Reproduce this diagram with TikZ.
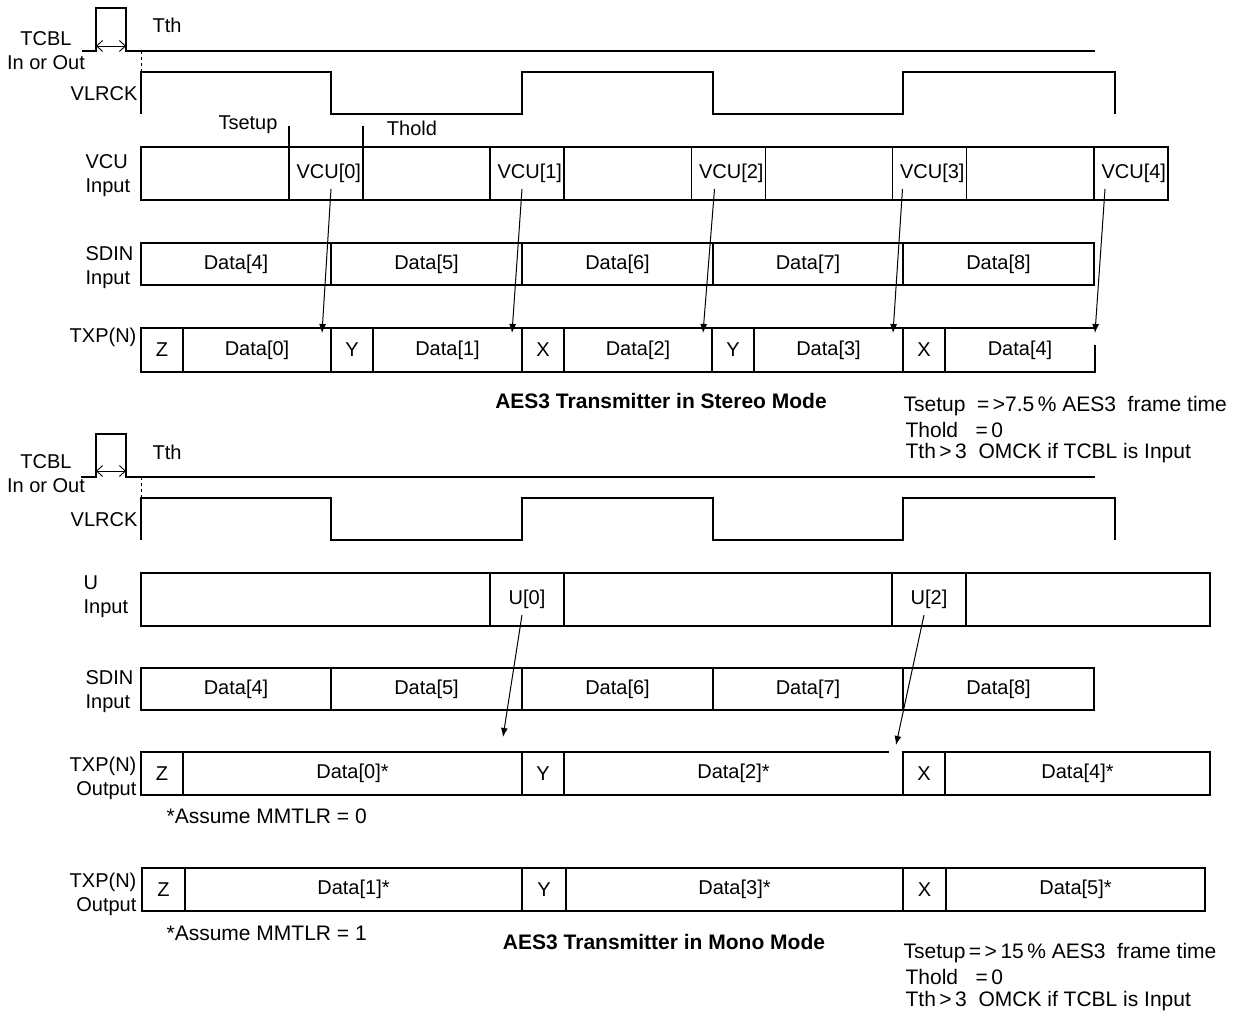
\documentclass[tikz,border=0pt]{standalone}
\usepackage{fontspec}
\setmainfont{Liberation Sans}
\usepackage{tikz}
\usetikzlibrary{arrows.meta}

\tikzset{
  cell/.style={draw, inner sep=0pt, outer sep=0pt},
  vcucell/.style={draw, inner sep=0pt, outer sep=0pt, text width=70, align=right},
  lbl/.style={inner sep=0pt, align=left},
  rlbl/.style={inner sep=0pt, align=right},
  note/.style={inner sep=0pt, anchor=west, font=\fontsize{21}{24}\selectfont},
  upd/.style={-{Latex[length=9pt,width=7pt]}, line width=1pt},
  thar/.style={{Straight Barb[length=6pt,width=11pt]}-{Straight Barb[length=6pt,width=11pt]}, line width=0.9pt},
  title/.style={inner sep=0pt, font=\fontsize{21}{24}\selectfont\bfseries},
}

\begin{document}
\begin{tikzpicture}[x=1pt, y=-1pt, line width=1.2pt, font=\fontsize{20}{24}\selectfont]
      \useasboundingbox (0,0) rectangle (1239,1014);

      \draw (82,51) -- (96,51) -- (96,8) -- (126,8) -- (126,51) -- (1095,51);
      \draw[thar] (96,46) -- (126,46);
      \draw[dashed, line width=0.9pt] (141,51) -- (141,72);
      \draw (141,114) -- (141,72) -- (331,72) -- (331,114) -- (522,114) -- (522,72) -- (713,72) -- (713,114) -- (903,114) -- (903,72) -- (1115,72) -- (1115,114);
      \draw (289,126) -- (289,147);
      \draw (363,126) -- (363,147);

      \node[lbl, align=center] (tcbl) at (46,51) {TCBL\\In or Out};
      \node[lbl, anchor=west] (tth) at (152,25) {Tth};
      \node[rlbl, anchor=east] (vlrck) at (138,94) {VLRCK};
      \node[lbl] (tsetup) at (248,125) {Tsetup};
      \node[lbl] (thold) at (412,128) {Thold};
      \node[lbl, anchor=west] (vcul) at (85,176) {VCU\\Input};
      \node[lbl, anchor=west] (sdinl) at (85,268) {SDIN\\Input};
      \node[rlbl, anchor=east] (txpl) at (137,337) {TXP(N)};

      \node[cell, minimum width=1027, minimum height=53] (vcurow) at (654.5,173.5) {};
      \node[vcucell, minimum width=74, minimum height=53] (vcu0) at (326,173.5) {VCU[0]};
      \node[vcucell, minimum width=74, minimum height=53] (vcu1) at (527,173.5) {VCU[1]};
      \node[vcucell, minimum width=74, minimum height=53] (vcu2) at (728.5,173.5) {VCU[2]};
      \node[vcucell, minimum width=74, minimum height=53] (vcu3) at (929.5,173.5) {VCU[3]};
      \node[vcucell, minimum width=74, minimum height=53] (vcu4) at (1131,173.5) {VCU[4]};

      \node[cell, minimum width=190, minimum height=42] (sd4) at (236,264) {Data[4]};
      \node[cell, minimum width=191, minimum height=42] (sd5) at (426.5,264) {Data[5]};
      \node[cell, minimum width=191, minimum height=42] (sd6) at (617.5,264) {Data[6]};
      \node[cell, minimum width=190, minimum height=42] (sd7) at (808,264) {Data[7]};
      \node[cell, minimum width=191, minimum height=42] (sd8) at (998.5,264) {Data[8]};

      \node[cell, minimum width=42, minimum height=44] (z0) at (162,350) {Z};
      \node[cell, minimum width=148, minimum height=44] (d0) at (257,350) {Data[0]};
      \node[cell, minimum width=42, minimum height=44] (y1) at (352,350) {Y};
      \node[cell, minimum width=149, minimum height=44] (d1) at (447.5,350) {Data[1]};
      \node[cell, minimum width=42, minimum height=44] (x2) at (543,350) {X};
      \node[cell, minimum width=148, minimum height=44] (d2) at (638,350) {Data[2]};
      \node[cell, minimum width=42, minimum height=44] (y3) at (733,350) {Y};
      \node[cell, minimum width=149, minimum height=44] (d3) at (828.5,350) {Data[3]};
      \node[cell, minimum width=42, minimum height=44] (x4) at (924,350) {X};
      \node[cell, draw=none, minimum width=150, minimum height=44] (d4) at (1020,350) {Data[4]};
      \draw ([yshift=-17pt]d4.north east) -- (d4.south east) -- (d4.south west) -- (d4.north west) -- (d4.north east);

      \draw[upd] ([xshift=42pt,yshift=11pt]vcu0.south west) -- ([xshift=-9pt,yshift=-5pt]d0.north east);
      \draw[upd] ([xshift=32pt,yshift=11pt]vcu1.south west) -- ([xshift=-10pt,yshift=-5pt]d1.north east);
      \draw[upd] ([xshift=23pt,yshift=11pt]vcu2.south west) -- ([xshift=-9pt,yshift=-5pt]d2.north east);
      \draw[upd] ([xshift=10pt,yshift=11pt]vcu3.south west) -- ([xshift=-10pt,yshift=-5pt]d3.north east);
      \draw[upd] ([xshift=11pt,yshift=11pt]vcu4.south west) -- ([yshift=-5pt]d4.north east);

      \node[title] (stereo) at (661,401) {AES3 Transmitter in Stereo Mode};
      \node[note] (n1) at (903,406) {Tsetup\ \ =\,>7.5\,\% AES3\ \ frame time};
      \node[note] (n2) at (905,430) {Thold\ \ \ =\,0};
      \node[note] (n3) at (905,453) {Tth\,>\,3\ \ OMCK if TCBL is Input};

      \draw (81,477) -- (96,477) -- (96,434) -- (126,434) -- (126,477) -- (1095,477);
      \draw[thar] (96,471) -- (126,471);
      \draw[dashed, line width=0.9pt] (141,477) -- (141,498);
      \draw (141,540) -- (141,498) -- (331,498) -- (331,540) -- (522,540) -- (522,498) -- (713,498) -- (713,540) -- (903,540) -- (903,498) -- (1115,498) -- (1115,540);

      \node[lbl, align=center] (mtcbl) at (46,474) {TCBL\\In or Out};
      \node[lbl, anchor=west] (mtth) at (152,452) {Tth};
      \node[rlbl, anchor=east] (mvlrck) at (138,520) {VLRCK};
      \node[lbl, anchor=west] (ul) at (83,597) {U\\Input};
      \node[lbl, anchor=west] (msdinl) at (85,692) {SDIN\\Input};
      \node[rlbl, anchor=east] (mtxpl) at (137,778) {TXP(N)\\Output};
      \node[rlbl, anchor=east] (ntxpl) at (137,894) {TXP(N)\\Output};

      \node[cell, minimum width=1069, minimum height=53] (urow) at (675.5,599.5) {};
      \node[cell, minimum width=74, minimum height=53] (u0) at (527,599.5) {U[0]};
      \node[cell, minimum width=74, minimum height=53] (u2) at (929,599.5) {U[2]};

      \node[cell, minimum width=190, minimum height=42] (msd4) at (236,689) {Data[4]};
      \node[cell, minimum width=191, minimum height=42] (msd5) at (426.5,689) {Data[5]};
      \node[cell, minimum width=191, minimum height=42] (msd6) at (617.5,689) {Data[6]};
      \node[cell, minimum width=190, minimum height=42] (msd7) at (808,689) {Data[7]};
      \node[cell, minimum width=191, minimum height=42] (msd8) at (998.5,689) {Data[8]};

      \node[cell, minimum width=42, minimum height=43] (mz0) at (162,773.5) {Z};
      \node[cell, minimum width=339, minimum height=43] (md0) at (352.5,773.5) {Data[0]*};
      \node[cell, minimum width=42, minimum height=43] (my2) at (543,773.5) {Y};
      \node[cell, draw=none, minimum width=339, minimum height=43] (md2) at (733.5,773.5) {Data[2]*};
      \draw ([xshift=-14pt]md2.north east) -- (md2.north west) -- (md2.south west) -- (md2.south east);
      \node[cell, minimum width=42, minimum height=43] (mx4) at (924,773.5) {X};
      \node[cell, minimum width=265, minimum height=43] (md4) at (1077.5,773.5) {Data[4]*};
      \node[note] (mm0) at (166,816) {*Assume MMTLR = 0};

      \draw[upd] ([xshift=32pt,yshift=11pt]u0.south west) -- ([xshift=-19pt,yshift=15pt]md0.north east);
      \draw[upd] ([xshift=32pt,yshift=11pt]u2.south west) -- ([xshift=-7pt,yshift=7pt]md2.north east);

      \node[cell, minimum width=43, minimum height=43] (nz1) at (163.5,889.5) {Z};
      \node[cell, minimum width=337, minimum height=43] (nd1) at (353.5,889.5) {Data[1]*};
      \node[cell, minimum width=44, minimum height=43] (ny3) at (544,889.5) {Y};
      \node[cell, minimum width=337, minimum height=43] (nd3) at (734.5,889.5) {Data[3]*};
      \node[cell, minimum width=43, minimum height=43] (nx5) at (924.5,889.5) {X};
      \node[cell, minimum width=259, minimum height=43] (nd5) at (1075.5,889.5) {Data[5]*};
      \node[note] (mm1) at (166,933) {*Assume MMTLR = 1};

      \node[title] (mono) at (664,942) {AES3 Transmitter in Mono Mode};
      \node[note] (m1) at (903,953) {Tsetup\,=\,>\,15\,\% AES3\ \ frame time};
      \node[note] (m2) at (905,977) {Thold\ \ \ =\,0};
      \node[note] (m3) at (905,1001) {Tth\,>\,3\ \ OMCK if TCBL is Input};
\end{tikzpicture}
\end{document}
